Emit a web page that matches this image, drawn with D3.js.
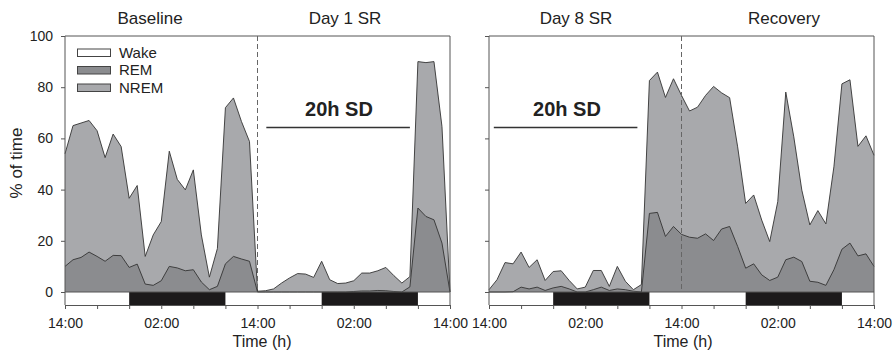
<!DOCTYPE html>
<html>
<head>
<meta charset="utf-8">
<script src="https://cdn.jsdelivr.net/npm/d3@7"></script>
<style>
  html, body { margin: 0; padding: 0; background: #fff; }
  svg { display: block; font-family: "Liberation Sans", Arial, sans-serif; }
</style>
</head>
<body>
<svg id="chart" width="893" height="352"></svg>
<script>
// ---- Data (hourly, hour 0 = 14:00 on first day of each panel) ----
const hours = d3.range(0, 49);
const panelTitles = [["Baseline", "Day 1 SR"], ["Day 8 SR", "Recovery"]];
const xTickLabels = ["14:00", "02:00", "14:00", "02:00", "14:00"];
const yTickValues = [0, 20, 40, 60, 80, 100];
const legendLabels = ["Wake", "REM", "NREM"];
const darkPeriods = [[8, 20], [32, 44]];
const sdLabel = "20h SD";
const sdPeriods = [[25.1, 43], [0.6, 18.5]];

// total sleep (REM + NREM), %
const baselineSleep = [54, 65, 66, 67, 63, 52.5, 61.7, 56.8, 36.6, 41.6, 13.9, 22.3, 27.5, 55, 44, 39.9, 47.7, 22.3, 5.8, 17, 72, 75.8, 66.6, 58.8];
const day1Sleep = [0.3, 0.5, 1.2, 3.5, 5.5, 7.2, 7, 5.7, 12, 4.8, 3.3, 3.5, 4.4, 7.4, 7.4, 8.3, 9.6, 6.4, 3.5, 6, 90, 89.6, 90, 64.6, 0];
const day8Sleep = [0.9, 4.8, 11.5, 11, 15.6, 9.6, 12.6, 4.5, 8, 8.3, 4.5, 1.2, 1.9, 8.4, 8.4, 2.2, 10, 4.2, 0.9, 2.9, 82.6, 85.9, 76, 83.3];
const recoverySleep = [76.8, 70.7, 72.2, 76.8, 80.3, 77.8, 75.9, 56.7, 34.6, 37.9, 28.1, 19.7, 35.3, 78.1, 60.6, 39.8, 26.2, 31.8, 26.6, 48.9, 81.3, 82.9, 56.9, 61, 53.4];

// REM, %
const baselineREM = [10, 12.6, 13.5, 15.6, 13.9, 12, 14.3, 14.2, 9.6, 10.9, 3.1, 2.6, 4.4, 10, 9.4, 8.3, 8.7, 3.9, 0.9, 2.2, 11, 13.9, 12.9, 12];
const day1REM = [0, 0, 0, 0, 0, 0, 0, 0, 0, 0, 0, 0, 0.2, 0.4, 0.4, 0.6, 0.5, 0.2, 0, 2, 32.8, 29.5, 28.2, 19.1, 0];
const day8REM = [0, 0, 0, 0.1, 1.9, 1.2, 1.9, 0.6, 1.6, 2.2, 1.2, 0, 0, 0.9, 1.9, 0.6, 1.2, 0.9, 0.3, 0, 30.7, 31.1, 21.7, 25.6];
const recoveryREM = [22.5, 21.4, 21, 22.7, 20.1, 24.6, 25.6, 17.8, 9.3, 11, 6.7, 4.5, 5.8, 12.6, 13.6, 11.9, 4.2, 3.8, 2.6, 8.7, 16.7, 19.1, 14.1, 14.9, 10];

const panels = [
  { sleep: baselineSleep.concat(day1Sleep), rem: baselineREM.concat(day1REM), x0: 65, x1: 450, titles: panelTitles[0], yLabels: true, titleX: [150, 345], sd: sdPeriods[0], sdX: 339, timeX: 262, legend: true },
  { sleep: day8Sleep.concat(recoverySleep), rem: day8REM.concat(recoveryREM), x0: 489, x1: 874, titles: panelTitles[1], yLabels: false, titleX: [576, 784], sd: sdPeriods[1], sdX: 567, timeX: 683, legend: false }
];

// ---- Styles ----
const C = { nrem: "#a8a9ac", rem: "#8b8c8f", line: "#333", axis: "#555", dark: "#1c1a1b", text: "#222" };
const yTop = 36, yZero = 292, yStrip = 305;

const svg = d3.select("#chart");
const y = d3.scaleLinear().domain([0, 100]).range([yZero, yTop]);

panels.forEach(p => {
  const x = d3.scaleLinear().domain([0, 48]).range([p.x0, p.x1]);
  const g = svg.append("g");

  const sleepData = hours.map(h => ({ h, v: p.sleep[h] }));
  const remData = hours.map(h => ({ h, v: p.rem[h] }));

  const area = d3.area().x(d => x(d.h)).y0(y(0)).y1(d => y(d.v));
  const line = d3.line().x(d => x(d.h)).y(d => y(d.v));

  g.append("path").datum(sleepData).attr("d", area).attr("fill", C.nrem);
  g.append("path").datum(remData).attr("d", area).attr("fill", C.rem);
  g.append("path").datum(sleepData).attr("d", line).attr("fill", "none").attr("stroke", C.line).attr("stroke-width", 0.9);
  g.append("path").datum(remData).attr("d", line).attr("fill", "none").attr("stroke", C.line).attr("stroke-width", 0.9);

  // light/dark strip
  darkPeriods.forEach(([a, b]) => {
    g.append("rect").attr("x", x(a)).attr("y", yZero).attr("width", x(b) - x(a)).attr("height", yStrip - yZero).attr("fill", C.dark);
  });
  g.append("line").attr("x1", p.x0).attr("x2", p.x1).attr("y1", yZero).attr("y2", yZero).attr("stroke", C.axis).attr("stroke-width", 1);

  // frame
  g.append("path")
    .attr("d", `M${p.x0},${yStrip}V${yTop}H${p.x1}V${yStrip}`)
    .attr("fill", "none").attr("stroke", C.axis).attr("stroke-width", 1);

  // dashed day separator
  g.append("line").attr("x1", x(24)).attr("x2", x(24)).attr("y1", yTop).attr("y2", yZero)
    .attr("stroke", "#666").attr("stroke-width", 1).attr("stroke-dasharray", "5,3");

  // x axis
  const xAxis = d3.axisBottom(x).tickValues(d3.range(0, 49, 4)).tickSize(4).tickPadding(9)
    .tickFormat(d => d % 12 === 0 ? xTickLabels[d / 12] : "");
  const xa = g.append("g").attr("transform", `translate(0,${yStrip})`).call(xAxis);
  xa.select(".domain").attr("stroke", C.axis);
  xa.selectAll(".tick line").attr("stroke", C.axis);
  xa.selectAll("text").attr("font-size", 14).attr("fill", C.text).attr("font-family", "Liberation Sans, Arial, sans-serif");

  // y axis
  const yAxis = d3.axisLeft(y).tickValues(yTickValues).tickSize(4).tickPadding(8)
    .tickFormat(d => p.yLabels ? d : "");
  const ya = g.append("g").attr("transform", `translate(${p.x0},0)`).call(yAxis);
  ya.select(".domain").remove();
  ya.selectAll(".tick line").attr("stroke", C.axis);
  ya.selectAll("text").attr("font-size", 14).attr("fill", C.text).attr("font-family", "Liberation Sans, Arial, sans-serif");

  // titles
  p.titles.forEach((t, i) => {
    g.append("text").attr("x", p.titleX[i]).attr("y", 24).attr("text-anchor", "middle")
      .attr("font-size", 17).attr("fill", C.text).text(t);
  });

  // SD annotation
  g.append("text").attr("x", p.sdX).attr("y", 116).attr("text-anchor", "middle")
    .attr("font-size", 20).attr("font-weight", "bold").attr("fill", C.text).text(sdLabel);
  g.append("line").attr("x1", x(p.sd[0])).attr("x2", x(p.sd[1]))
    .attr("y1", 127.5).attr("y2", 127.5).attr("stroke", C.line).attr("stroke-width", 1.5);

  // x title
  g.append("text").attr("x", p.timeX).attr("y", 347).attr("text-anchor", "middle")
    .attr("font-size", 16).attr("fill", C.text).text("Time (h)");

  // legend
  if (p.legend) {
    const fills = ["#fff", C.rem, C.nrem];
    legendLabels.forEach((lab, i) => {
      const ly = 49 + i * 17.5;
      g.append("rect").attr("x", 77.5).attr("y", ly).attr("width", 33).attr("height", 7.5)
        .attr("fill", fills[i]).attr("stroke", "#444").attr("stroke-width", 1);
      g.append("text").attr("x", 119).attr("y", ly + 8.5).attr("font-size", 15).attr("fill", C.text).text(lab);
    });
  }
});

// y title
svg.append("text").attr("transform", "translate(22,163) rotate(-90)").attr("text-anchor", "middle")
  .attr("font-size", 17).attr("fill", C.text).text("% of time");
</script>
</body>
</html>
